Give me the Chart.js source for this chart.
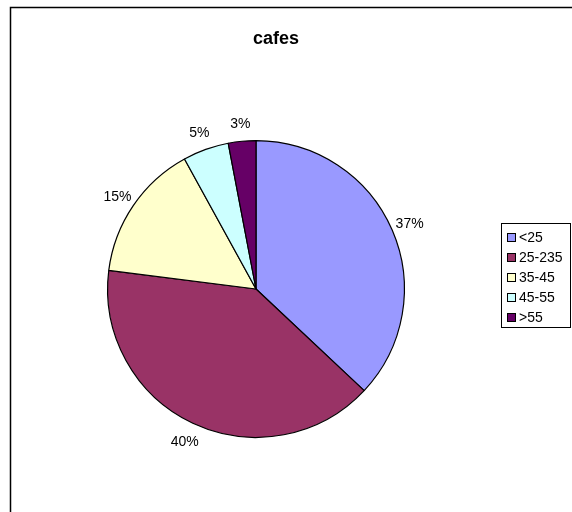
<!DOCTYPE html>
<html>
<head>
<meta charset="utf-8">
<script src="https://cdn.jsdelivr.net/npm/chart.js@4"></script>
<style>
  html, body { margin: 0; background: #fff; }
  canvas { display: block; }
</style>
</head>
<body>
<canvas id="cafesChart" width="572" height="512"></canvas>
<script>
const categories = ['<25', '25-235', '35-45', '45-55', '>55'];
const shares = [37, 40, 15, 5, 3];
const sliceColors = ['#9999FF', '#993366', '#FFFFCC', '#CCFFFF', '#660066'];
const chartTitle = 'cafes';

const FONT = 'Arial, "Liberation Sans", sans-serif';

// frame, title, outside percent labels and the boxed legend
const decorations = {
  id: 'decorations',
  beforeDraw(chart) {
    const ctx = chart.ctx;
    ctx.save();
    ctx.fillStyle = '#fff';
    ctx.fillRect(0, 0, chart.width, chart.height);
    ctx.strokeStyle = '#000';
    ctx.lineWidth = 1.5;
    ctx.beginPath();
    ctx.moveTo(10.5, chart.height + 2);
    ctx.lineTo(10.5, 7.5);
    ctx.lineTo(chart.width + 2, 7.5);
    ctx.stroke();
    ctx.restore();
  },
  afterDraw(chart) {
    const ctx = chart.ctx;
    ctx.save();

    ctx.fillStyle = '#000';
    ctx.font = 'bold 18px ' + FONT;
    ctx.textAlign = 'center';
    ctx.textBaseline = 'middle';
    ctx.fillText(chartTitle, 276, 39);

    // percent labels just outside each slice
    const meta = chart.getDatasetMeta(0);
    const total = shares.reduce((a, b) => a + b, 0);
    ctx.font = '14px ' + FONT;
    meta.data.forEach((arc, i) => {
      const p = arc.getProps(['x', 'y', 'startAngle', 'endAngle', 'outerRadius'], true);
      const mid = (p.startAngle + p.endAngle) / 2;
      const r = p.outerRadius + 19;
      const label = Math.round(shares[i] / total * 100) + '%';
      ctx.fillText(label, p.x + Math.cos(mid) * r, p.y + Math.sin(mid) * r + 2);
    });

    // legend
    const box = { x: 501.5, y: 223.5, w: 69, h: 104 };
    ctx.lineWidth = 1;
    ctx.strokeStyle = '#000';
    ctx.strokeRect(box.x, box.y, box.w, box.h);
    ctx.font = '14px ' + FONT;
    ctx.textAlign = 'left';
    categories.forEach((name, i) => {
      const cy = 238 + i * 20;
      ctx.fillStyle = sliceColors[i];
      ctx.fillRect(507.5, cy - 4.5, 8, 8);
      ctx.strokeRect(507.5, cy - 4.5, 8, 8);
      ctx.fillStyle = '#000';
      ctx.fillText(name, 519, cy);
    });

    ctx.restore();
  }
};

// eslint-disable-next-line no-undef
new Chart(document.getElementById('cafesChart'), {
  type: 'pie',
  data: {
    labels: categories,
    datasets: [
      {
        data: shares,
        backgroundColor: sliceColors,
        borderColor: '#000',
        borderWidth: 1.2,
      },
    ],
  },
  options: {
    responsive: false,
    animation: false,
    layout: { padding: { left: 107, top: 140, right: 167, bottom: 74 } },
    plugins: {
      legend: { display: false },
      title: { display: false },
      tooltip: { enabled: false },
    },
  },
  plugins: [decorations],
});
</script>
</body>
</html>
